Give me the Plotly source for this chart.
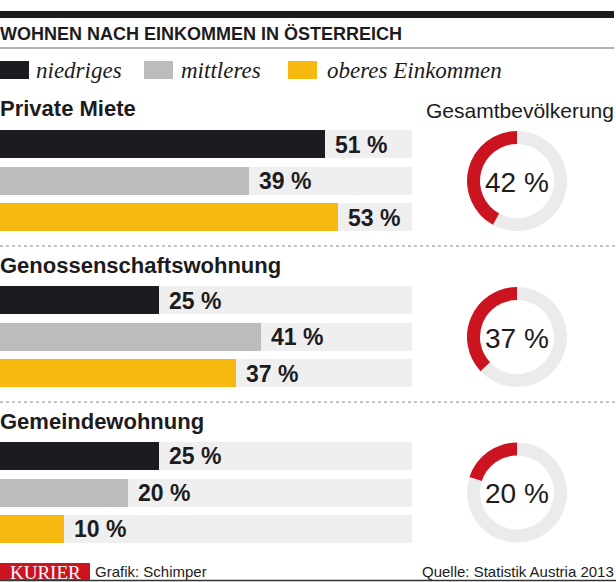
import plotly.graph_objects as go

# ---------------- data ----------------
incomes = ["niedriges", "mittleres", "oberes Einkommen"]
sections = ["Private Miete", "Genossenschaftswohnung", "Gemeindewohnung"]
private_miete = [51, 39, 53]
genossenschaft = [25, 41, 37]
gemeinde = [25, 20, 10]
gesamt = [42, 37, 20]          # Gesamtbevölkerung
TRACK_MAX = 64.6               # length of the light background track (in %)

title_text = "WOHNEN NACH EINKOMMEN IN ÖSTERREICH"
donut_title = "Gesamtbevölkerung"
footer_left = "Grafik: Schimper"
footer_right = "Quelle: Statistik Austria 2013"
brand = "KURIER"

# ---------------- style ----------------
W, H = 616, 582
bar_colors = ["#1c1b20", "#bcbcbc", "#f7b80f"]
track_color = "#efefef"
red = "#cc1421"
ring_gray = "#ebebeb"
BOLD = "Liberation Sans, Arial, sans-serif"
REG = "Liberation Sans, Arial, sans-serif"
SERIF = "Liberation Serif, Times New Roman, serif"


def py(px):
    return 1 - px / H


def px_x(px):
    return px / W


fig = go.Figure()

values = [private_miete, genossenschaft, gemeinde]
yaxes = ["y", "y2", "y3"]
# vertical pixel domains of the bar groups
bar_domains = [(126.25, 235.75), (282.25, 391.75), (437.75, 547.25)]

for vals, ya in zip(values, yaxes):
    fig.add_trace(go.Bar(
        x=[TRACK_MAX] * len(incomes), y=incomes, orientation="h",
        marker=dict(color=track_color, line=dict(width=0)),
        width=0.78, xaxis="x", yaxis=ya, hoverinfo="skip", showlegend=False,
    ))
    fig.add_trace(go.Bar(
        x=vals, y=incomes, orientation="h",
        marker=dict(color=bar_colors, line=dict(width=0)),
        width=0.78, xaxis="x", yaxis=ya, hoverinfo="skip", showlegend=False,
    ))

annotations = []
for vals, ya in zip(values, yaxes):
    for cat, v in zip(incomes, vals):
        annotations.append(dict(
            x=v, y=cat, xref="x", yref=ya, text=f"{v} %", showarrow=False,
            xanchor="left", yanchor="middle", xshift=8, yshift=0,
            font=dict(family=BOLD, size=23, color="#1c1b20", weight="bold"),
        ))

layout_axes = {}
layout_axes["xaxis"] = dict(domain=[0, 412 / W], range=[0, TRACK_MAX], visible=False,
                            fixedrange=True, anchor="y")
for ya, (top, bot) in zip(yaxes, bar_domains):
    key = "yaxis" if ya == "y" else "yaxis" + ya[1:]
    layout_axes[key] = dict(domain=[py(bot), py(top)], visible=False,
                            categoryorder="array", categoryarray=incomes,
                            autorange="reversed", anchor="x", fixedrange=True)

# donuts: the red share ends at 12 o'clock, running counter-clockwise from the top
donut_centers = [181, 337, 492.5]
R = 50
for share, cy in zip(gesamt, donut_centers):
    fig.add_trace(go.Pie(
        values=[100 - share, share], sort=False, direction="clockwise",
        rotation=0, hole=0.74, textinfo="none", hoverinfo="skip",
        marker=dict(colors=[ring_gray, red], line=dict(width=0)),
        domain=dict(x=[px_x(517 - R), px_x(517 + R)], y=[py(cy + R), py(cy - R)]),
        showlegend=False,
    ))
    annotations.append(dict(
        x=px_x(517), y=py(cy + 1), xref="paper", yref="paper", text=f"{share} %",
        showarrow=False, xanchor="center", yanchor="middle",
        font=dict(family=REG, size=28, color="#1c1b20"),
    ))

# section headers
header_y = [108, 266, 421]
for name, hy in zip(sections, header_y):
    annotations.append(dict(
        x=0, y=py(hy), xref="paper", yref="paper", text=name, showarrow=False,
        xanchor="left", yanchor="middle", xshift=-2,
        font=dict(family=BOLD, size=22, color="#1c1b20", weight="bold"),
    ))

annotations.append(dict(
    x=px_x(614), y=py(110), xref="paper", yref="paper", text=donut_title,
    showarrow=False, xanchor="right", yanchor="middle", xshift=2,
    font=dict(family=REG, size=21, color="#1c1b20"),
))

# title
annotations.append(dict(
    x=0, y=py(34), xref="paper", yref="paper", text=title_text, showarrow=False,
    xanchor="left", yanchor="middle", xshift=-2,
    font=dict(family=BOLD, size=18, color="#1c1b20", weight="bold"),
))

# legend
legend_x = [(0, 29, 36), (144, 173, 181), (288, 317, 327)]
shapes = []
for (x0, x1, tx), col, lab in zip(legend_x, bar_colors, incomes):
    shapes.append(dict(type="rect", xref="paper", yref="paper",
                       x0=px_x(x0), x1=px_x(x1), y0=py(79), y1=py(61),
                       fillcolor=col, line=dict(width=0)))
    annotations.append(dict(
        x=px_x(tx), y=py(70), xref="paper", yref="paper", text=lab,
        showarrow=False, xanchor="left", yanchor="middle", xshift=-2,
        font=dict(family=SERIF, size=23, color="#1c1b20", style="italic"),
    ))

# rules
shapes.append(dict(type="rect", xref="paper", yref="paper", x0=0, x1=px_x(614),
                   y0=py(18), y1=py(11), fillcolor="#1c1b20", line=dict(width=0)))
shapes.append(dict(type="line", xref="paper", yref="paper", x0=0, x1=px_x(614),
                   y0=py(48), y1=py(48), line=dict(color="#9a9a9a", width=1.5)))
for ly in (246, 402):
    shapes.append(dict(type="line", xref="paper", yref="paper", x0=0, x1=1,
                       y0=py(ly), y1=py(ly), line=dict(color="#8a8a8a", width=1, dash="dot")))

# footer
shapes.append(dict(type="line", xref="paper", yref="paper", x0=0, x1=1,
                   y0=py(580.5), y1=py(580.5), line=dict(color="#333333", width=1.5)))
shapes.append(dict(type="rect", xref="paper", yref="paper", x0=0, x1=px_x(90),
                   y0=py(580), y1=py(563), fillcolor=red, line=dict(width=0)))
annotations.append(dict(
    x=px_x(45), y=py(572), xref="paper", yref="paper", text=brand, showarrow=False,
    xanchor="center", yanchor="middle",
    font=dict(family=SERIF, size=19, color="white"),
))
annotations.append(dict(
    x=px_x(95), y=py(571), xref="paper", yref="paper", text=footer_left, showarrow=False,
    xanchor="left", yanchor="middle", xshift=-2,
    font=dict(family=REG, size=15, color="#1c1b20"),
))
annotations.append(dict(
    x=px_x(614), y=py(571), xref="paper", yref="paper", text=footer_right, showarrow=False,
    xanchor="right", yanchor="middle", xshift=2,
    font=dict(family=REG, size=15, color="#1c1b20"),
))

fig.update_layout(
    width=W, height=H, margin=dict(l=0, r=0, t=0, b=0),
    paper_bgcolor="white", plot_bgcolor="white",
    barmode="overlay", bargap=0, showlegend=False,
    annotations=annotations, shapes=shapes,
    **layout_axes,
)

fig.write_html("out.html", config={"displayModeBar": False},
               post_script="document.body.style.margin='0';document.body.style.padding='0';")
